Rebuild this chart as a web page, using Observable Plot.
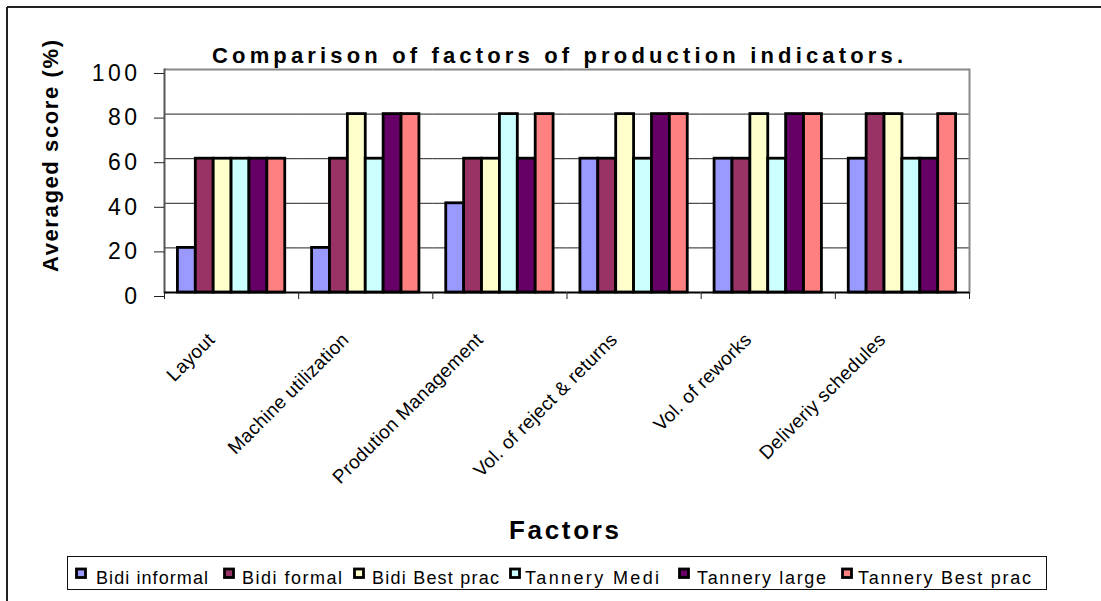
<!DOCTYPE html>
<html><head><meta charset="utf-8">
<script src="https://cdn.jsdelivr.net/npm/d3@7"></script>
<script src="https://cdn.jsdelivr.net/npm/@observablehq/plot@0.6"></script>
<style>
body{margin:0;background:#fff;}
#wrap{position:relative;width:1101px;height:601px;overflow:hidden;background:#fff;font-family:"Liberation Sans",Arial,sans-serif;}
#wrap svg{position:absolute;left:0;top:0;}
</style></head><body><div id="wrap"></div>
<script>
const categories = ["Layout","Machine utilization","Prodution Management","Vol. of reject & returns","Vol. of reworks","Deliveriy schedules"];
const series = ["Bidi informal","Bidi formal","Bidi Best prac","Tannery Medi","Tannery large","Tannery Best prac"];
const colors = ["#9999FF","#993366","#FFFFCC","#CCFFFF","#660066","#FF8080"];
const bidiInformal = [20,20,40,60,60,60];
const bidiFormal   = [60,60,60,60,60,80];
const bidiBest     = [60,80,60,80,80,80];
const tanneryMedi  = [60,60,80,60,60,60];
const tanneryLarge = [60,80,60,80,80,60];
const tanneryBest  = [60,80,80,80,80,80];
const yTicks = [0,20,40,60,80,100];

const seriesValues = [bidiInformal,bidiFormal,bidiBest,tanneryMedi,tanneryLarge,tanneryBest];
const data = [];
categories.forEach((c,i)=>series.forEach((s,j)=>data.push({category:c,series:s,value:seriesValues[j][i]})));

const W=1101,H=601,ML=164,MR=132,MT=69,MB=309;
const bw=(W-ML-MR)/categories.length;

const chart = Plot.plot({
  width:W,height:H,marginLeft:ML,marginRight:MR,marginTop:MT,marginBottom:MB,
  style:{fontFamily:"Liberation Sans, Arial, sans-serif",background:"transparent",overflow:"visible",color:"#000"},
  fx:{domain:categories,padding:0,axis:null,label:null,round:false},
  x:{domain:series,paddingInner:0,paddingOuter:0.75,axis:null,round:false},
  y:{domain:[0,100],axis:null},
  color:{domain:series,range:colors},
  marks:[
    Plot.ruleY([20,40,60,80],{stroke:"#222",strokeWidth:1}),
    Plot.barY(data,{fx:"category",x:"series",y:"value",fill:"series",stroke:"black",strokeWidth:2.8}),
    Plot.ruleY([100],{stroke:"#888",strokeWidth:2}),
    Plot.frame({anchor:"right",facetAnchor:"right",stroke:"#888",strokeWidth:2}),
    Plot.frame({anchor:"left",facetAnchor:"left",stroke:"#555",strokeWidth:2}),
    Plot.ruleY([0],{stroke:"#000",strokeWidth:2}),
    Plot.axisY({ticks:yTicks,tickSize:10,tickPadding:14,fontSize:23,label:null,dy:4,stroke:"#222"}),
    Plot.axisFx({anchor:"bottom",tickSize:7,text:null,dx:-bw/2,stroke:"#222",label:null}),
    Plot.axisFx({anchor:"bottom",ticks:[categories[categories.length-1]],tickSize:7,text:null,dx:bw/2,stroke:"#222",label:null}),
    Plot.axisFx({anchor:"bottom",tickSize:0,tickRotate:-45,tickPadding:44,fontSize:19,dx:-20,label:null})
  ]
});
d3.select(chart).selectAll("g[aria-label='y-axis tick label'] text").style("letter-spacing","3.5px");
d3.select(chart).selectAll("g[aria-label='fx-axis tick label'] text").style("letter-spacing","0.3px");
const wrap=document.getElementById("wrap");
wrap.appendChild(chart);

// overlay texts
const ov=d3.select(wrap).append("svg").attr("width",W).attr("height",H)
  .style("font-family","Liberation Sans, Arial, sans-serif").style("pointer-events","none");
ov.append("line").attr("x1",7).attr("y1",7).attr("x2",W).attr("y2",7).attr("stroke","#222").attr("stroke-width",2);
ov.append("line").attr("x1",7).attr("y1",7).attr("x2",7).attr("y2",H).attr("stroke","#222").attr("stroke-width",2);
ov.append("text").attr("x",212).attr("y",63).attr("font-size",22).attr("font-weight","bold")
  .attr("textLength",691).attr("lengthAdjust","spacing").text("Comparison of factors of production indicators.");
ov.append("text").attr("transform","translate(58,272) rotate(-90)").attr("font-size",22).attr("font-weight","bold")
  .attr("textLength",232).attr("lengthAdjust","spacing").text("Averaged score (%)");
ov.append("text").attr("x",509).attr("y",539).attr("font-size",26).attr("font-weight","bold")
  .attr("textLength",110).attr("lengthAdjust","spacing").text("Factors");

// legend (layout constants)
const legBox={x:67.5,y:556.5,w:979,h:33};
const legSwX=[75,223,353,509,678,841];
const legTextX=[96,242,372,525,697,858];
const legTextW=[112,100,127,134,129,173];
ov.append("rect").attr("x",legBox.x).attr("y",legBox.y).attr("width",legBox.w).attr("height",legBox.h)
  .attr("fill","none").attr("stroke","#111").attr("stroke-width",1);
series.forEach((s,i)=>{
  ov.append("rect").attr("x",legSwX[i]+1.5).attr("y",569).attr("width",9).attr("height",8.5)
    .attr("fill",colors[i]).attr("stroke","#000").attr("stroke-width",2.8);
  ov.append("text").attr("x",legTextX[i]).attr("y",584).attr("font-size",18)
    .attr("textLength",legTextW[i]).attr("lengthAdjust","spacing").text(s);
});
</script></body></html>
